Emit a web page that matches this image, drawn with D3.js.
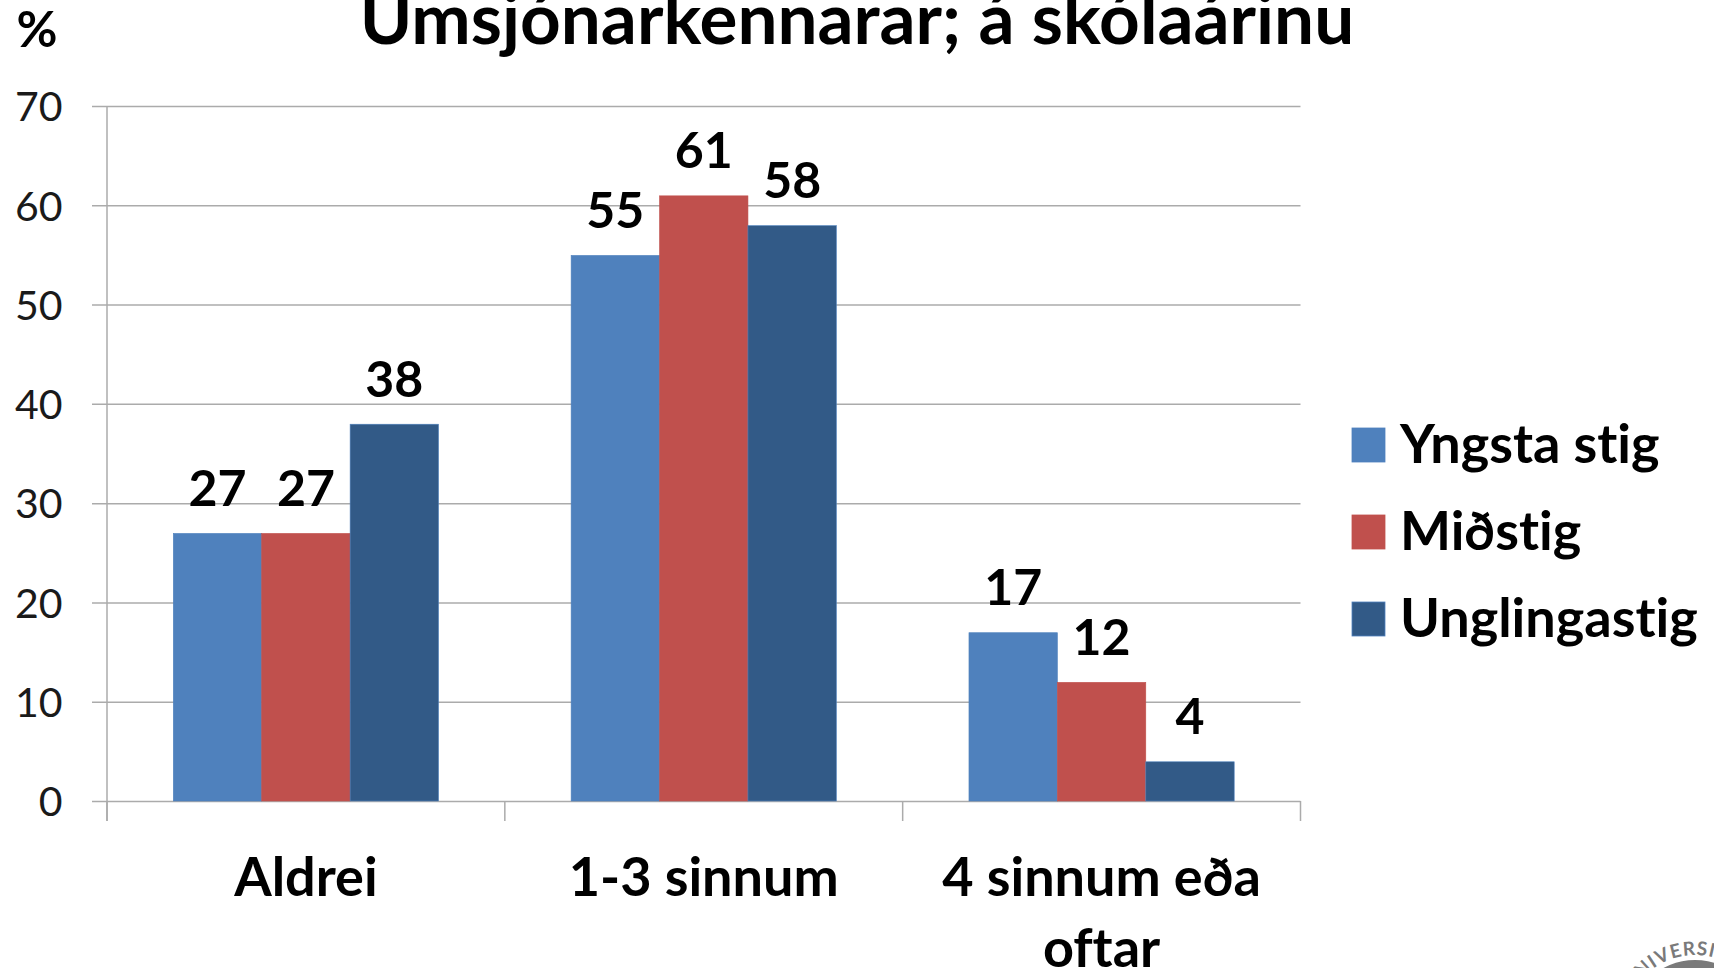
<!DOCTYPE html>
<html><head><meta charset="utf-8">
<script src="https://cdn.jsdelivr.net/npm/d3@7"></script>
<style>html,body{margin:0;padding:0;background:#fff;overflow:hidden}svg{display:block}text{font-family:Lato,"Open Sans",sans-serif;font-variant-ligatures:none}</style>
</head><body><svg id="c" width="1714" height="968"></svg>
<script>
const categories = ["Aldrei", "1-3 sinnum", ["4 sinnum eða", "oftar"]];
const seriesNames = ["Yngsta stig", "Miðstig", "Unglingastig"];
const yngsta = [27, 55, 17];
const midstig = [27, 61, 12];
const unglinga = [38, 58, 4];
const seriesValues = [yngsta, midstig, unglinga];
const colors = ["#4F81BD", "#C0504D", "#325A87"];
const edgeColors = ["#4F81BD", "#C0504D", "#4F81BD"];
const yTicks = [0, 10, 20, 30, 40, 50, 60, 70];
const titleText = "Umsjónarkennarar; á skólaárinu";

const svg = d3.select("#c");
const ink = "#000", grid = "#ABABAB";
const plotL = 107, plotR = 1300.5, plotT = 106, plotB = 801;
const x = d3.scaleBand().domain(d3.range(categories.length)).range([plotL, plotR]);
const xi = d3.scaleBand().domain(d3.range(seriesNames.length)).range([0, x.bandwidth()]).paddingInner(0).paddingOuter(0.75);
const y = d3.scaleLinear().domain([0, 70]).range([plotB, plotT]);

// gridlines and y axis
const yAxis = d3.axisLeft(y).tickValues(yTicks).tickSize(plotR - plotL + 15).tickPadding(0).tickFormat(d3.format("d"));
const gy = svg.append("g").attr("transform", `translate(${plotR},0)`).call(yAxis);
gy.select(".domain").remove();
gy.selectAll("line").attr("stroke", grid).attr("stroke-width", 1.5);
gy.selectAll("text").attr("x", -(plotR - 62.5)).attr("text-anchor", "end").attr("dy", "0.36em")
  .attr("font-size", 41).attr("fill", "#1a1a1a").style("font-family", "Lato");
svg.append("line").attr("x1", plotL).attr("x2", plotL).attr("y1", plotT).attr("y2", plotB + 20).attr("stroke", grid).attr("stroke-width", 1.5);

// x axis ticks
const edges = d3.range(categories.length + 1).map(i => plotL + i * x.step());
svg.selectAll(".xt").data(edges).join("line").attr("class", "xt").attr("x1", d => d).attr("x2", d => d)
  .attr("y1", plotB).attr("y2", plotB + 20).attr("stroke", grid).attr("stroke-width", 1.5);

// bars
const groups = svg.selectAll(".grp").data(categories).join("g").attr("class", "grp")
  .attr("transform", (d, i) => `translate(${x(i)},0)`);
seriesNames.forEach((s, si) => {
  groups.append("rect").attr("x", xi(si)).attr("width", xi.bandwidth())
    .attr("y", (d, i) => y(seriesValues[si][i]) + 0.5).attr("height", (d, i) => plotB - y(seriesValues[si][i]) - 0.5)
    .attr("fill", colors[si]).attr("stroke", edgeColors[si]).attr("stroke-width", 0.6);
  groups.append("text").attr("x", xi(si) + xi.bandwidth() / 2).attr("y", (d, i) => y(seriesValues[si][i]) - 27)
    .attr("text-anchor", "middle").attr("font-weight", 700).attr("font-size", 50).attr("fill", ink)
    .text((d, i) => seriesValues[si][i]);
});

// category labels
const cl = svg.selectAll(".cl").data(categories).join("text").attr("class", "cl")
  .attr("text-anchor", "middle").attr("font-weight", 700).attr("font-size", 54).attr("fill", ink);
cl.each(function (d, i) {
  const lines = Array.isArray(d) ? d : [d];
  d3.select(this).selectAll("tspan").data(lines).join("tspan")
    .attr("x", x(i) + x.bandwidth() / 2).attr("y", (l, k) => 896 + k * 71).text(l => l);
});

// title and % label
svg.append("text").attr("x", 857).attr("y", 44).attr("text-anchor", "middle").attr("font-weight", 700)
  .attr("font-size", 71).attr("fill", ink).text(titleText);
svg.append("text").attr("x", 37).attr("y", 47).attr("text-anchor", "middle").attr("font-weight", 700)
  .attr("font-size", 50).attr("fill", ink).text("%");

// legend
const ly = [445, 532, 619];
seriesNames.forEach((s, i) => {
  svg.append("rect").attr("x", 1352).attr("y", ly[i] - 17).attr("width", 33).attr("height", 34)
    .attr("fill", colors[i]).attr("stroke", edgeColors[i]).attr("stroke-width", 0.8);
  svg.append("text").attr("x", 1400).attr("y", ly[i] + 18).attr("font-weight", 700).attr("font-size", 54)
    .attr("fill", ink).text(s);
});

// university seal, cut off by the lower edge
const seal = svg.append("g");
seal.append("circle").attr("cx", 1695).attr("cy", 1026).attr("r", 66).attr("fill", "#7a7a7a");
seal.append("path").attr("id", "sealArc").attr("fill", "none").attr("d", "M1624,1026 A71,71 0 0 1 1766,1026");
seal.append("text").attr("font-size", 19).attr("font-weight", 700).attr("letter-spacing", 1).attr("fill", "#7a7a7a")
  .append("textPath").attr("href", "#sealArc").attr("startOffset", 36).text("UNIVERSITAS");
</script></body></html>
